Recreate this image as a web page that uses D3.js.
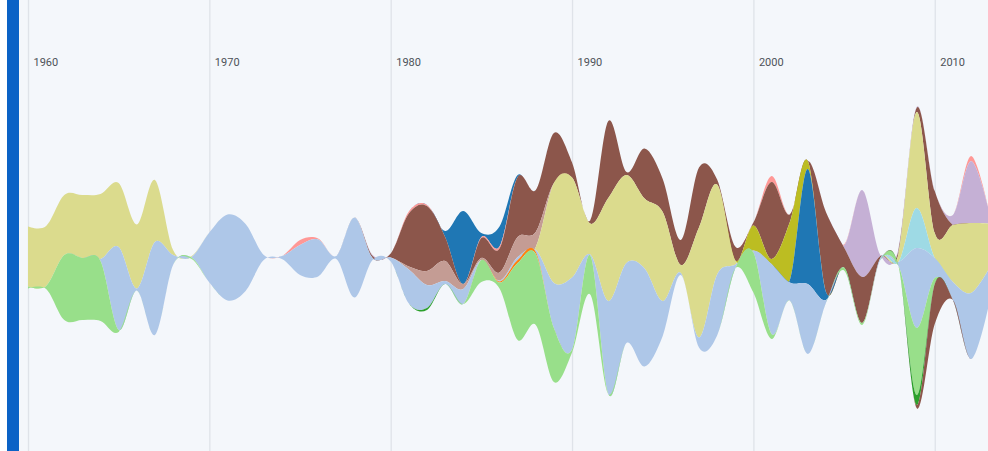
<!DOCTYPE html>
<html>
<head>
<meta charset="utf-8">
<script src="https://d3js.org/d3.v7.min.js"></script>
<style>
html,body{margin:0;padding:0;background:#ffffff;}
#stream_div{position:relative;width:988px;height:451px;overflow:hidden;}
</style>
</head>
<body>
<div id="stream_div"></div>
<script>

////////////////////////////////////////
////////////////////////////////////////
////////////////////////////////////////

var years = [
	1960,1961,1962,1963,1964,1965,1966,1967,1968,1969,
	1970,1971,1972,1973,1974,1975,1976,1977,1978,1979,
	1980,1981,1982,1983,1984,1985,1986,1987,1988,1989,
	1990,1991,1992,1993,1994,1995,1996,1997,1998,1999,
	2000,2001,2002,2003,2004,2005,2006,2007,2008,2009,
	2010,2011,2012,2013
];

var decadeTicks = [1960,1970,1980,1990,2000,2010];

// one row per decade, top of the stream first
var blueA = [
	0,0,0,0,0,0,0,0,0,0,
	0,0,0,0,0,0,0,0,0,0,
	0,0,0,6,73,4,20,2,0,0,
	0,0,0,0,0,0,0,0,0,0,
	0,0,0,0,0,0,0,0,0,0,
	0,0,0,0
];
var salmon = [
	0,0,0,0,0,0,0,0,0,0,
	0,0,0,0,0,5,1,0,0,0,
	0,2,1,0,0,1,2,0,0,0,
	0,0,0,0,0,0,0,0,0,0,
	0,6,0,0,0,1,0,0,0,0,
	0,0,5,0
];
var purple = [
	0,0,0,0,0,0,0,0,0,0,
	0,0,0,0,0,0,0,0,0,1,
	0,0,0,0,0,0,0,0,0,0,
	0,0,0,0,0,0,0,0,0,0,
	0,0,0,0,0,2,87,1,2,1,
	0,10,62,12
];
var brownA = [
	0,0,0,0,0,0,0,0,0,0,
	0,0,0,0,0,0,0,0,0,2,
	4,53,65,24,0,20,24,60,42,50,
	15,3,77,3,50,33,25,60,5,14,
	3,77,8,0,80,20,46,2,3,4,
	42,0,0,0
];
var olive = [
	0,0,0,0,0,0,0,0,0,0,
	0,0,0,0,0,0,0,0,0,0,
	0,0,0,0,0,0,0,0,0,0,
	0,0,0,0,0,0,0,0,0,0,
	25,5,58,8,0,0,0,0,0,0,
	0,0,0,0
];
var blueB = [
	0,0,0,0,0,0,0,0,0,0,
	0,0,0,0,0,0,0,0,0,0,
	0,0,0,0,0,0,0,0,0,0,
	0,0,0,0,0,0,0,0,0,0,
	0,0,2,115,8,0,0,0,0,0,
	0,0,0,0
];
var lightBrown = [
	0,0,0,0,0,0,0,0,0,0,
	0,0,0,0,0,0,0,0,0,0,
	0,3,14,20,5,2,8,20,15,0,
	0,0,0,0,0,0,0,0,0,0,
	0,0,0,0,0,0,0,0,0,0,
	0,0,0,0
];
var yellow = [
	60,60,60,63,65,64,64,62,5,1,
	0,0,0,0,0,0,0,0,0,0,
	0,0,0,0,0,0,0,0,3,100,
	100,31,103,88,70,89,8,110,90,4,
	0,0,0,0,0,0,0,0,8,96,
	25,57,70,45
];
var cyan = [
	0,0,0,0,0,0,0,0,0,0,
	0,0,0,0,0,0,0,0,0,0,
	0,0,0,0,0,0,0,0,0,0,
	0,0,0,0,0,0,0,0,0,0,
	0,0,0,0,0,0,0,0,0,40,
	0,0,0,0
];
var lightBlue = [
	0,0,0,0,2,83,2,93,10,0,
	50,86,67,5,3,30,37,3,80,2,
	4,34,23,3,15,0,1,3,2,45,
	72,1,93,80,98,35,2,10,61,4,
	2,70,18,70,3,0,0,2,4,80,
	20,18,66,35
];
var orange = [
	0,0,0,0,0,0,0,0,0,0,
	0,0,0,0,0,0,0,0,0,0,
	0,0,0,0,0,0,1,3,2,0,
	0,0,0,0,0,0,0,0,0,0,
	0,0,0,0,0,0,0,0,0,0,
	0,0,0,0
];
var lightGreen = [
	2,3,65,62,60,2,0,0,0,1.5,
	0,0,0,0,0,0,0,0,0,0,
	0,0,0,0,0,22,6,77,71,54,
	3,39,0,0,0,0,0,0,0,0,
	40,5,0,0,0,3,2,0,0,67,
	6,0,0,0
];
var green = [
	0,0,0,0,0,0,0,0,0,0,
	0,0,0,0,0,0,0,0,0,0,
	0,0,2,0,0,0,0,0,0,0,
	0,0,0,0,0,0,0,0,0,0,
	0,0,0,0,0,0,0,0,0,10,
	0,0,0,0
];
var brownB = [
	0,0,0,0,0,0,0,0,0,0,
	0,0,0,0,0,0,0,0,0,0,
	0,0,0,0,0,0,0,0,0,0,
	0,0,0,0,0,0,0,0,0,0,
	0,0,0,0,0,0,0,0,0,3,
	40,0,0,0
];

var seriesKeys = ['blueA','salmon','purple','brownA','olive','blueB','lightBrown','yellow','cyan','lightBlue','orange','lightGreen','green','brownB'];
var seriesValues = [blueA,salmon,purple,brownA,olive,blueB,lightBrown,yellow,cyan,lightBlue,orange,lightGreen,green,brownB];
var seriesColors = ['#1f77b4','#ff9896','#c5b0d5','#8c564b','#bcbd22','#1f77b4','#c49c94','#dbdb8d','#9edae5','#aec7e8','#ff7f0e','#98df8a','#2ca02c','#8c564b'];

////////////////////////////////////////
////////////////////////////////////////
////////////////////////////////////////

var stream_w = 988;
var stream_h = 451;

var stream_vis = d3.select('#stream_div')
	.append('svg')
	.attr('width',stream_w)
	.attr('height',stream_h)
	.attr('id','stream_svg');

stream_vis.append('rect')
	.attr('x',0)
	.attr('y',0)
	.attr('width',stream_w)
	.attr('height',stream_h)
	.attr('fill','#f4f7fb');

var stream_table = years.map(function(yr,i){
	var row = {'year':yr};
	seriesKeys.forEach(function(k,j){
		row[k] = seriesValues[j][i];
	});
	return row;
});

var stream_x = d3.scaleLinear()
	.domain([1960,2013])
	.range([28,28+53*18.135]);

var stream_y = d3.scaleLinear()
	.domain([-257.5,193.5])
	.range([0,stream_h]);

var stream_color = d3.scaleOrdinal()
	.domain(seriesKeys)
	.range(seriesColors);

////////////////////////////////////////
////////////////////////////////////////
////////////////////////////////////////

var stream_axis = d3.axisBottom(stream_x)
	.tickValues(decadeTicks)
	.tickSize(stream_h)
	.tickFormat(d3.format('d'));

var stream_axisG = stream_vis.append('g')
	.attr('class','stream_axis')
	.call(stream_axis);

stream_axisG.select('.domain').remove();

stream_axisG.selectAll('.tick line')
	.attr('stroke','#dfe3e9')
	.attr('stroke-width',1.3);

stream_axisG.selectAll('.tick text')
	.attr('x',5)
	.attr('y',66)
	.attr('dy',0)
	.attr('text-anchor','start')
	.attr('fill','#4d5258')
	.style('font-family','Roboto, "Noto Sans", sans-serif')
	.style('font-size','11px');

////////////////////////////////////////
////////////////////////////////////////
////////////////////////////////////////

var stream_layers = d3.stack()
	.keys(seriesKeys)
	.order(d3.stackOrderNone)
	.offset(d3.stackOffsetSilhouette)(stream_table);

var stream_area = d3.area()
	.x(function(d){
		return stream_x(d.data.year);
	})
	.y0(function(d){
		return stream_y(d[0]);
	})
	.y1(function(d){
		return stream_y(d[1]);
	})
	.curve(d3.curveCardinal);

stream_vis.selectAll('path.stream_layer')
	.data(stream_layers)
	.enter()
		.append('path')
		.attr('class','stream_layer')
		.attr('d',stream_area)
		.attr('fill',function(d){
			return stream_color(d.key);
		});

////////////////////////////////////////
////////////////////////////////////////
////////////////////////////////////////

stream_vis.append('rect')
	.attr('x',0)
	.attr('y',0)
	.attr('width',7)
	.attr('height',stream_h)
	.attr('fill','#ffffff');

stream_vis.append('rect')
	.attr('x',7)
	.attr('y',0)
	.attr('width',12)
	.attr('height',stream_h)
	.attr('fill','#0b62c6');

</script>
</body>
</html>
